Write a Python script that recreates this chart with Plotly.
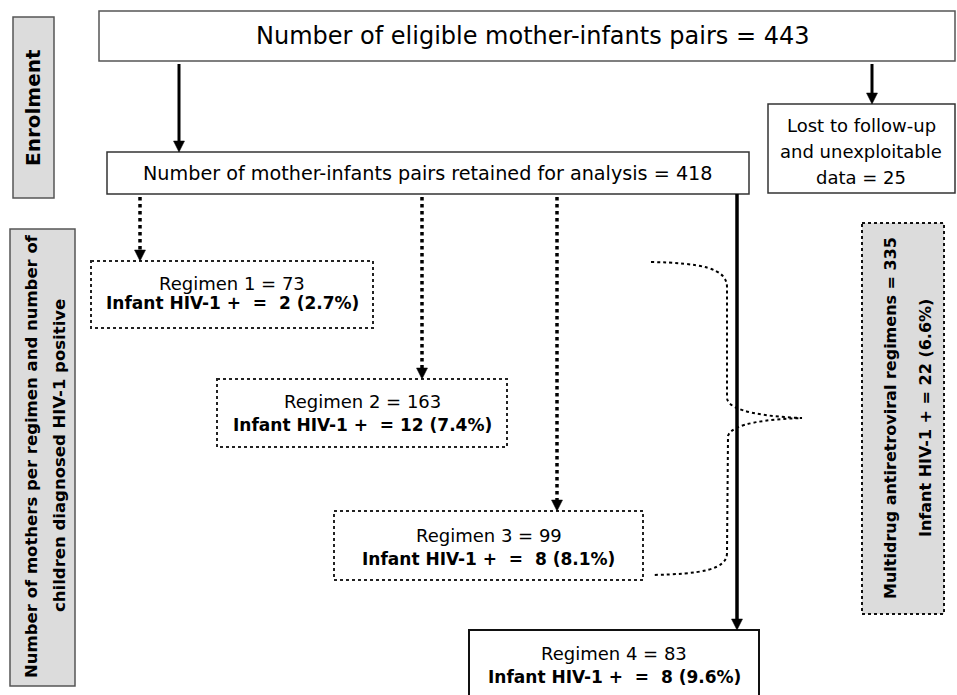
import plotly.graph_objects as go

# ---------------- data ----------------
eligible_pairs = 443
retained_pairs = 418
lost_pairs = 25
regimen_names = ["Regimen 1", "Regimen 2", "Regimen 3", "Regimen 4"]
regimen_mothers = [73, 163, 99, 83]
regimen_infected = [2, 12, 8, 8]
regimen_percent = [2.7, 7.4, 8.1, 9.6]
multidrug_mothers = 335
multidrug_infected = 22
multidrug_percent = 6.6
section_labels = ["Enrolment",
                  ["Number of mothers per regimen and number of",
                   "children diagnosed HIV-1 positive"]]

# ---------------- layout geometry (pixels) ----------------
W, H = 957, 695
FONT = "DejaVu Sans"
NB = "\u00a0"

top_box = (99, 11, 955, 61)
ret_box = (107, 152, 749, 194)
lost_box = (768, 104, 955, 193)
enrol_box = (13, 17, 54, 198)
sect_box = (10, 229, 75, 686)
reg_boxes = [(91, 261, 373, 328), (217, 379, 507, 447), (334, 511, 643, 580), (469, 630, 759, 700)]
reg_line_y = [(283, 303), (401, 425), (535, 559), (653, 677)]
arrow_x = [140, 422, 557, 737]
multi_box = (862, 223, 944, 614)

shapes = []
annotations = []


def rect(b, color="#444", width=1.5, dash="solid", fill="rgba(0,0,0,0)"):
    shapes.append(dict(type="rect", xref="x", yref="y", x0=b[0], y0=b[1], x1=b[2], y1=b[3],
                       line=dict(color=color, width=width, dash=dash), fillcolor=fill, layer="below"))


def vline(x, y0, y1, width=3, dash="solid"):
    shapes.append(dict(type="line", xref="x", yref="y", x0=x, y0=y0, x1=x, y1=y1,
                       line=dict(color="black", width=width, dash=dash)))


def head(x, y):
    shapes.append(dict(type="path", xref="x", yref="y",
                       path=f"M {x-5.5},{y-11} L {x+5.5},{y-11} L {x},{y} Z",
                       fillcolor="black", line=dict(color="black", width=0.5)))


def text(x, y, s, size=18, bold=False, angle=0):
    if bold:
        s = f"<b>{s}</b>"
    annotations.append(dict(x=x, y=y, xref="x", yref="y", text=s, showarrow=False,
                            xanchor="center", yanchor="middle", textangle=angle,
                            font=dict(family=FONT, size=size, color="black")))


# section boxes (grey, left)
rect(enrol_box, color="#555", width=1.5, fill="#dcdcdc")
rect(sect_box, color="#555", width=1.5, fill="#dcdcdc")
text(33, 108, section_labels[0], size=20, bold=True, angle=-90)
text(31, 456, section_labels[1][0], size=16.5, bold=True, angle=-90)
text(59, 456, section_labels[1][1], size=16.5, bold=True, angle=-90)

# top box
rect(top_box, color="#555", width=1.5)
text((top_box[0] + top_box[2]) / 2 + 6, 36,
     f"Number of eligible mother-infants pairs = {eligible_pairs}", size=24)

# arrows from top
vline(179, 64, 144)
head(179, 152)
vline(872, 64, 96)
head(872, 104)

# retained box
rect(ret_box, color="#333", width=1.5)
text(428, 173, f"Number of mother-infants pairs retained for analysis = {retained_pairs}", size=19.2)

# lost box
rect(lost_box, color="#333", width=1.5)
lost_lines = ["Lost to follow-up", "and unexploitable", f"data = {lost_pairs}"]
for i, s in enumerate(lost_lines):
    text(861, 125 + 26 * i, s, size=18)

# regimen arrows and boxes
for i in range(4):
    b = reg_boxes[i]
    if i < 3:
        vline(arrow_x[i], 197, b[1] - 9, width=3.5, dash="dot")
        rect(b, color="#222", width=2, dash="dot")
    else:
        vline(arrow_x[i], 194, b[1] - 9, width=3.5)
        rect(b, color="#111", width=2)
    head(arrow_x[i], b[1])
    cx = (b[0] + b[2]) / 2
    text(cx, reg_line_y[i][0], f"{regimen_names[i]} = {regimen_mothers[i]}", size=18)
    n = str(regimen_infected[i])
    pad = NB * (3 - len(n))
    text(cx, reg_line_y[i][1],
         f"Infant HIV-1 +{NB}{NB}={pad}{n} ({regimen_percent[i]}%)", size=17, bold=True)

# curly brace (dotted)
brace = ("M 651,262 C 700,263 727,268 727,287 L 727,398 C 728,412 770,417 802,418 "
         "C 770,419 732,423 728,436 L 727,553 C 727,570 700,574 652,575")
shapes.append(dict(type="path", xref="x", yref="y", path=brace,
                   line=dict(color="black", width=2, dash="dot")))

# multidrug box
rect(multi_box, color="#111", width=2, dash="dot", fill="#dcdcdc")
text(890, 418, f"Multidrug antiretroviral regimens = {multidrug_mothers}", size=16, bold=True, angle=-90)
text(925, 418, f"Infant HIV-1 + = {multidrug_infected} ({multidrug_percent}%)", size=16, bold=True, angle=-90)

fig = go.Figure()
fig.update_layout(
    width=W, height=H,
    margin=dict(l=0, r=0, t=0, b=0),
    paper_bgcolor="white", plot_bgcolor="white",
    xaxis=dict(range=[0, W], visible=False, fixedrange=True),
    yaxis=dict(range=[H, 0], visible=False, fixedrange=True),
    shapes=shapes, annotations=annotations,
    showlegend=False,
)
fig.write_html("out.html", config={"displayModeBar": False},
               post_script="document.body.style.margin='0';document.body.style.overflow='hidden';")
